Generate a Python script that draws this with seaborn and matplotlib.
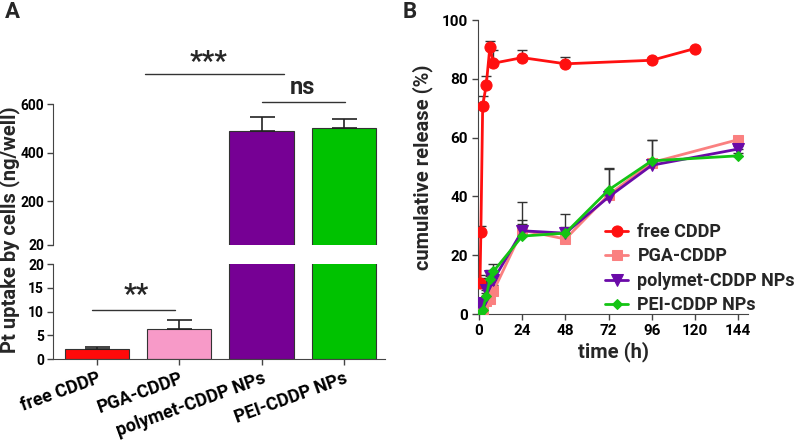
import numpy as np
import pandas as pd
import matplotlib
matplotlib.use("Agg")
import matplotlib.pyplot as plt
import seaborn as sns

# ---------------- data ----------------
categories = ["free CDDP", "PGA-CDDP", "polymet-CDDP NPs", "PEI-CDDP NPs"]
uptake = [2.2, 6.3, 490, 502]
uptake_err = [0.4, 2.0, 58, 36]
bar_colors = ["#ff0a0a", "#f79ac8", "#760094", "#00c200"]

times_free = [0.5, 1, 2, 4, 6, 8, 24, 48, 96, 120]
free_cddp = [10.5, 28.0, 70.8, 78.0, 90.8, 85.3, 87.2, 85.1, 86.3, 90.3]
free_err = [2.8, 2.0, 3.2, 3.0, 2.2, 4.5, 2.5, 2.2, 0.0, 0.0]

times_np = [0.5, 2, 4, 6, 8, 24, 48, 72, 96, 144]
pga_cddp = [0.5, 0.8, 4.5, 5.0, 7.8, 28.5, 25.5, 40.5, 51.5, 59.3]
pga_err = [0.5, 0.5, 1.0, 1.5, 2.0, 3.5, 1.5, 1.0, 1.0, 1.0]
polymet_np = [3.0, 3.6, 8.2, 12.9, 11.6, 28.3, 27.5, 39.8, 50.6, 56.1]
polymet_err = [1.0, 1.0, 4.0, 2.0, 3.0, 9.7, 6.4, 9.6, 8.5, 1.0]
pei_np = [0.5, 1.5, 6.0, 11.9, 14.5, 26.5, 27.5, 42.2, 52.1, 53.8]
pei_err = [0.5, 0.5, 1.0, 1.5, 2.5, 4.0, 2.0, 7.3, 7.0, 1.0]

series_names = ["free CDDP", "PGA-CDDP", "polymet-CDDP NPs", "PEI-CDDP NPs"]
line_colors = ["#ff1010", "#fa8080", "#6a0aa8", "#14c414"]
markers = ["o", "s", "v", "D"]
marker_sizes = [8, 7, 8, 5.5]

# ---------------- style ----------------
sns.set_style("ticks")
plt.rcParams["font.family"] = ["Roboto", "DejaVu Sans"]
plt.rcParams["font.style"] = "normal"
plt.rcParams["font.weight"] = "bold"
plt.rcParams["axes.labelweight"] = "bold"
plt.rcParams["axes.edgecolor"] = "#444444"
plt.rcParams["xtick.color"] = "#444444"
plt.rcParams["ytick.color"] = "#444444"
plt.rcParams["xtick.labelcolor"] = "black"
plt.rcParams["ytick.labelcolor"] = "black"

W, H = 800, 440
fig = plt.figure(figsize=(8, 4.4), dpi=100)

def rect(l, t, r, b):
    return [l / W, 1 - b / H, (r - l) / W, (b - t) / H]

ax_up = fig.add_axes(rect(53, 104, 385, 245))
ax_lo = fig.add_axes(rect(53, 264, 385, 359))
axB = fig.add_axes(rect(478, 20, 748, 314))

# ---------------- panel A ----------------
dfA = pd.DataFrame({"cat": categories, "val": uptake})
xpos = np.arange(len(categories))
for ax in (ax_up, ax_lo):
    sns.barplot(data=dfA, x="cat", y="val", hue="cat", palette=bar_colors,
                ax=ax, legend=False, width=0.78, edgecolor="#333333",
                linewidth=0.8, errorbar=None, saturation=1)
    ax.errorbar(xpos, uptake, yerr=[np.zeros(len(uptake)), uptake_err],
                fmt="none", ecolor="#222222", elinewidth=1.2, capsize=9,
                capthick=1.2, zorder=1)
    ax.set_xlim(-0.535, 3.5)
    ax.set_xlabel("")
    ax.set_ylabel("")
    sns.despine(ax=ax)

ax_up.set_ylim(20, 600)
ax_up.set_yticks([20, 200, 400, 600])
ax_up.spines["bottom"].set_visible(False)
ax_up.tick_params(axis="x", bottom=False, labelbottom=False)
ax_lo.set_ylim(0, 20)
ax_lo.set_yticks([0, 5, 10, 15, 20])
for ax in (ax_up, ax_lo):
    ax.tick_params(axis="y", labelsize=10, length=4, width=1, pad=2.5)
    for lab in ax.get_yticklabels():
        lab.set_fontweight("bold")
ax_lo.tick_params(axis="x", length=4, width=1)
ax_lo.set_xticks(xpos)
ax_lo.set_xticklabels(categories, rotation=20, ha="right",
                      rotation_mode="anchor", fontsize=13, fontweight="bold")

fig.text(10 / W, 1 - 230 / H, "Pt uptake by cells (ng/well)", rotation=90,
         ha="center", va="center", fontsize=14.5, fontweight="bold")

def bar_line(ax, x0, x1, yfrac, txt, tx, ty, size):
    ax.plot([x0, x1], [yfrac, yfrac], color="#333333", lw=1,
            transform=ax.get_xaxis_transform(), clip_on=False)
    ax.text(tx, ty, txt, transform=ax.get_xaxis_transform(), ha="center",
            va="center", fontsize=size, fontweight="bold")

def yfrac_of(ax, py):
    bb = ax.get_position()
    yf = 1 - py / H
    return (yf - bb.y0) / bb.height

bar_line(ax_up, 0.58, 2.27, yfrac_of(ax_up, 74), "***", 1.35,
         yfrac_of(ax_up, 62), 20)
bar_line(ax_up, 2.0, 3.01, yfrac_of(ax_up, 102), "ns", 2.5,
         yfrac_of(ax_up, 87), 17)
bar_line(ax_lo, -0.06, 0.95, yfrac_of(ax_lo, 310), "**", 0.48,
         yfrac_of(ax_lo, 295), 20)

# ---------------- panel B ----------------
all_t = [times_free, times_np, times_np, times_np]
all_v = [free_cddp, pga_cddp, polymet_np, pei_np]
all_e = [free_err, pga_err, polymet_err, pei_err]
for name, t, v, e, c in zip(series_names, all_t, all_v, all_e, line_colors):
    axB.errorbar(t, v, yerr=[np.zeros(len(e)), e], fmt="none",
                 ecolor="#333333", elinewidth=1, capsize=3.5, capthick=1,
                 zorder=1)
for name, t, v, c, m, ms in zip(series_names, all_t, all_v, line_colors,
                                markers, marker_sizes):
    df = pd.DataFrame({"time": t, "release": v})
    sns.lineplot(data=df, x="time", y="release", ax=axB, color=c, marker=m,
                 markersize=ms, markeredgecolor=c, linewidth=2, label=name,
                 zorder=3)

axB.set_xlim(-0.6, 149.5)
axB.set_ylim(0, 100)
axB.set_xticks([0, 24, 48, 72, 96, 120, 144])
axB.set_yticks([0, 20, 40, 60, 80, 100])
axB.tick_params(labelsize=11, length=4, width=1)
for lab in axB.get_xticklabels() + axB.get_yticklabels():
    lab.set_fontweight("bold")
axB.set_xlabel("time (h)", fontsize=14.5, fontweight="bold", labelpad=2)
axB.set_ylabel("cumulative release (%)", fontsize=14.5, fontweight="bold",
               labelpad=6)
sns.despine(ax=axB)
axB.legend(loc="upper left", bbox_to_anchor=(0.47, 0.31), frameon=False,
           prop={"size": 13, "weight": "bold"}, handlelength=1.3,
           handletextpad=0.5, labelspacing=0.36, borderpad=0,
           borderaxespad=0)

fig.text(5 / W, 1 - 12 / H, "A", fontsize=16, fontweight="bold", va="center")
fig.text(403 / W, 1 - 12 / H, "B", fontsize=16, fontweight="bold", va="center")

fig.savefig("out.png", dpi=100)
